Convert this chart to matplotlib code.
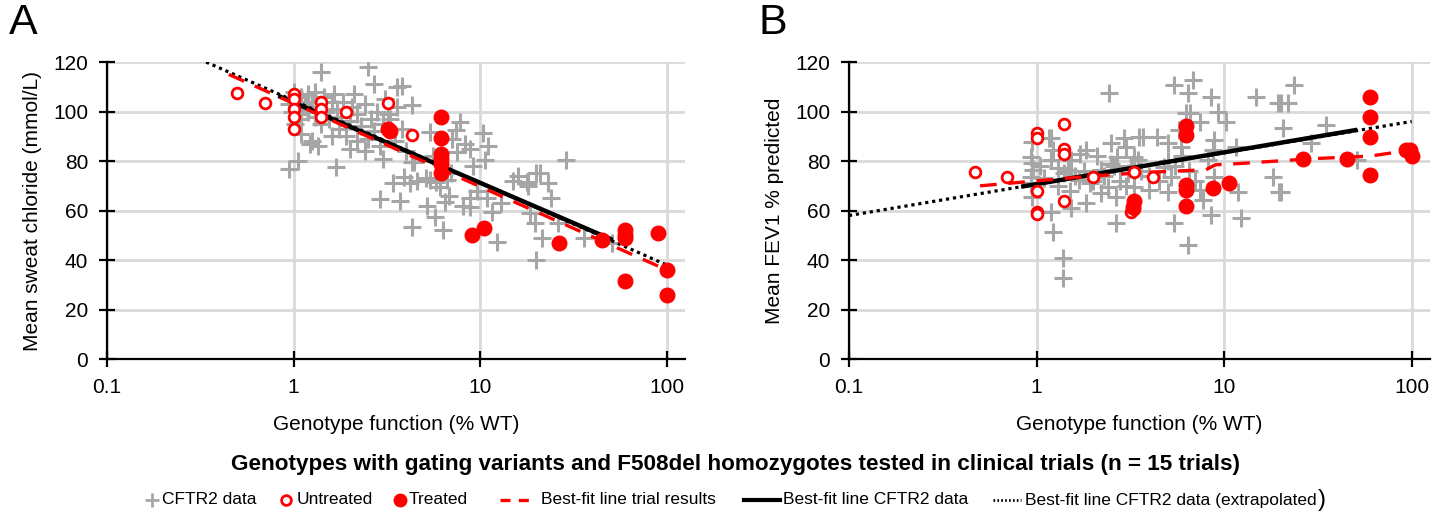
import matplotlib as mpl
import matplotlib.pyplot as plt
from matplotlib.lines import Line2D

mpl.rcParams.update({
    "font.family": ["Liberation Sans", "DejaVu Sans"],
    "font.size": 15,
    "axes.spines.right": False,
    "axes.spines.top": False,
})

GRAY = "#a6a6a6"
RED = "#ff0000"

# ---- Panel A: sweat chloride ----
a_cftr2_x = [0.95, 1.0, 1.0, 1.05, 1.05, 1.1, 1.1, 1.15, 1.2, 1.2, 1.25, 1.3, 1.3, 1.35, 1.4,
             1.45, 1.5, 1.55, 1.6, 1.65, 1.7, 1.75, 1.8, 1.85, 1.9, 2.0, 2.05, 2.1, 2.2, 2.3,
             2.4, 2.5, 2.6, 2.7, 2.8, 2.9, 3.0, 3.1, 3.3, 3.5, 3.6, 3.8, 4.0, 1.02, 1.1, 1.25,
             1.35, 1.6, 2.2, 1.08, 0.98, 1.4, 2.5, 2.7, 3.6, 3.8, 0.95, 1.05, 1.68, 1.23, 2.9,
             4.3, 3.4, 2.0, 4.3, 3.2, 5.4, 7.8, 7.4, 10.4, 8.8, 8.3, 7.1, 7.5, 10.6, 5.6, 4.4,
             4.6, 5.1, 5.8, 6.6, 17.8, 20.0, 3.9, 4.2, 5.4, 6.1, 3.7, 5.2, 6.5, 8.1, 8.8, 8.8,
             5.7, 4.3, 6.3, 11.6, 12.3, 18.0, 20.0, 18.5, 19.7, 20.9, 23.0, 24.0, 18.0, 21.4,
             26.0, 36.0, 50.9, 28.8, 16.0, 10.9, 9.6, 7.0, 6.8, 9.2, 11.0, 13.0, 15.0, 2.4, 3.0]
a_cftr2_y = [103, 108, 106, 104, 101, 99, 106, 103, 100, 107, 104, 98, 108, 102, 95,
             106, 100, 97, 104, 107, 101, 93, 98, 104, 90, 96, 102, 107, 99, 94,
             103, 89, 97, 92, 100, 86, 95, 105, 97, 88, 102, 93, 84, 95, 91, 88,
             86, 90, 88, 97, 100, 116, 118, 111, 110, 110.5, 77, 80, 77.5, 87, 64.5,
             102.5, 71, 85, 79.5, 99, 91.7, 95.8, 92.5, 91.3, 85, 87, 89, 83.6, 80.4, 82, 79.6,
             72, 73, 71.5, 72.5, 71.5, 75, 73.5, 71, 72.3, 69.5, 64, 62, 63.4, 62, 65, 61.4,
             57.4, 53.3, 52, 59.4, 47.3, 71, 40, 59, 55, 75, 71, 65, 70, 49,
             55, 49, 47, 80.4, 74, 65, 68, 75, 66, 78, 86, 63, 72, 84, 81]

a_untreated_x = [0.5, 0.7, 1.0, 1.0, 1.0, 1.0, 1.0, 1.4, 1.4, 1.4, 1.9, 3.2, 4.3]
a_untreated_y = [107.5, 103.5, 107, 105, 101, 98, 93, 104, 101, 98, 100, 103.5, 90.5]
a_treated_x = [3.2, 3.3, 6.2, 6.2, 6.2, 6.2, 6.2, 6.2, 9.0, 10.5, 26.5, 45, 60, 60, 60, 60, 90, 100, 100]
a_treated_y = [93, 92, 98, 89.5, 83, 81, 79, 75, 50, 53, 47, 48, 52, 50, 49, 31.5, 51, 36, 26]

a_trial_fit_x = [0.45, 100]
a_trial_fit_y = [115, 36]
a_cftr2_fit_x = [0.85, 50]
a_cftr2_fit_y = [106, 48.5]
a_extrap_x = [0.34, 100]
a_extrap_y = [120, 38]

# ---- Panel B: FEV1 ----
b_cftr2_x = [2.43, 1.16, 0.95, 0.93, 0.95, 0.96, 0.93, 0.93, 0.95, 1.22, 1.19, 1.3, 1.52, 1.48,
             1.83, 1.68, 1.52, 1.19, 1.23, 1.39, 1.39, 1.83, 2.49, 2.92, 2.99, 2.7, 2.2, 1.94,
             2.4, 2.2, 2.64, 2.64, 3.07, 3.3, 3.46, 3.5, 5.4, 6.8, 6.4, 8.5, 14.8, 19.4, 6.3,
             6.6, 9.3, 10.2, 7.4, 5.75, 3.7, 4.4, 5.0, 5.9, 8.8, 11.6, 8.7, 3.3, 8.2, 4.77, 5.2,
             3.97, 5.0, 7.4, 7.7, 8.8, 11.9, 18.3, 19.7, 5.4, 8.5, 12.3, 6.4, 23.6, 20.2, 22.0,
             20.6, 35.0, 29.0, 20.2, 50.9, 1.6, 1.8, 2.0, 2.3, 2.6, 2.8, 3.0, 3.2, 3.6, 4.0,
             4.5, 5.0, 5.5, 6.0, 6.5, 7.0, 1.3, 1.1, 1.5, 1.19, 1.7, 2.1, 2.5, 1.4, 1.05]
b_cftr2_y = [107.5, 89.3, 87.7, 81.6, 79.2, 76.4, 73.5, 71, 65.4, 84.4, 80.4, 77.2, 80.4, 76.4,
             84.4, 72.3, 61, 59.4, 51.3, 40.8, 32.7, 63, 87.3, 89.3, 85.6, 81.6, 76.4, 71,
             69.5, 67, 65.4, 55, 75, 69.5, 80.4, 89.7, 110.7, 112.7, 107.5, 105.8, 105.8, 103.4, 99.4,
             99.4, 99.8, 95.7, 95.7, 92.5, 89.7, 89.7, 87.3, 85.6, 88.5, 85.6, 84.4, 81.6, 80.4, 77.6, 73.5,
             68.3, 67.5, 68.3, 64.2, 73.5, 67.5, 73.5, 67.5, 55, 58.2, 57, 46, 110.7, 103.4, 103.4,
             93.3, 94.5, 87.3, 67.5, 80.4, 74, 76, 72, 74, 78, 72, 70, 78, 76, 74,
             72, 80, 78, 82, 76, 72, 70, 73, 68, 89.3, 83, 82, 79, 75, 78]

b_untreated_x = [0.47, 0.7, 1.0, 1.0, 1.0, 1.0, 1.0, 1.4, 1.4, 1.4, 1.4, 2.0, 3.18, 3.3, 3.3, 4.2]
b_untreated_y = [75.5, 73.5, 91.5, 89.5, 68, 59.5, 58.5, 95, 85, 83, 64, 73.5, 59.4, 60.5, 75.6, 73.5]
b_treated_x = [3.3, 3.25, 6.3, 6.3, 6.3, 6.3, 6.3, 8.7, 10.6, 26.5, 45, 60, 60, 60, 60, 93, 98, 101]
b_treated_y = [63.8, 61.5, 94, 90.5, 70.3, 68.3, 61.8, 69, 71, 81, 81, 105.8, 98, 89.7, 74.3, 84.4, 84.5, 82]

b_trial_fit_x = [0.5, 1, 2, 4, 8, 9, 12, 30, 60, 100]
b_trial_fit_y = [70, 72, 74, 75.5, 76.5, 78.5, 79, 81, 82, 84.5]
b_cftr2_fit_x = [0.85, 50]
b_cftr2_fit_y = [69.8, 92.5]
b_extrap_x = [0.1, 100]
b_extrap_y = [58, 96]

legend_labels = ["CFTR2 data", "Untreated", "Treated", "Best-fit line trial results",
                 "Best-fit line CFTR2 data", "Best-fit line CFTR2 data (extrapolated"]


def draw_panel(ax, cx, cy, ux, uy, tx, ty, fx, fy, sx, sy, ex, ey, ylabel):
    ax.scatter(cx, cy, marker="+", s=150, color=GRAY, linewidths=2.2, zorder=2)
    ax.plot(ex, ey, color="black", ls=(0, (1, 1.2)), lw=2.3, zorder=3)
    ax.plot(sx, sy, color="black", lw=3.2, zorder=4)
    ax.plot(fx, fy, color=RED, ls=(0, (5, 3.5)), lw=2.4, zorder=5)
    ax.scatter(ux, uy, s=60, facecolors="white", edgecolors=RED, linewidths=2.0, zorder=6)
    ax.scatter(tx, ty, s=110, color=RED, zorder=6)
    ax.set_xscale("log")
    ax.set_xlim(0.1, 125)
    ax.set_ylim(0, 120)
    ax.set_xticks([0.1, 1, 10, 100])
    ax.set_xticklabels(["0.1", "1", "10", "100"])
    ax.xaxis.set_minor_locator(mpl.ticker.NullLocator())
    ax.set_yticks(range(0, 121, 20))
    ax.grid(True, color="#d9d9d9", lw=2.0, zorder=0)
    ax.set_axisbelow(True)
    for sp in ("left", "bottom"):
        ax.spines[sp].set_linewidth(1.6)
        ax.spines[sp].set_zorder(7)
    ax.tick_params(direction="inout", length=11, width=1.6, labelsize=15, pad=8)
    ax.set_xlabel("Genotype function (% WT)", fontsize=15, labelpad=13)
    ax.set_ylabel(ylabel, fontsize=15, labelpad=8)


fig = plt.figure(figsize=(14.45, 5.13), dpi=100)
ax_a = fig.add_axes([0.074, 0.300, 0.400, 0.579])
ax_b = fig.add_axes([0.5875, 0.300, 0.402, 0.579])

draw_panel(ax_a, a_cftr2_x, a_cftr2_y, a_untreated_x, a_untreated_y, a_treated_x, a_treated_y,
           a_trial_fit_x, a_trial_fit_y, a_cftr2_fit_x, a_cftr2_fit_y, a_extrap_x, a_extrap_y,
           "Mean sweat chloride (mmol/L)")
draw_panel(ax_b, b_cftr2_x, b_cftr2_y, b_untreated_x, b_untreated_y, b_treated_x, b_treated_y,
           b_trial_fit_x, b_trial_fit_y, b_cftr2_fit_x, b_cftr2_fit_y, b_extrap_x, b_extrap_y,
           "Mean FEV1 % predicted")

fig.text(0.006, 0.955, "A", fontsize=31, va="center", ha="left")
fig.text(0.525, 0.955, "B", fontsize=31, va="center", ha="left")

fig.text(0.509, 0.095, "Genotypes with gating variants and F508del homozygotes tested in clinical trials (n = 15 trials)",
         fontsize=16.2, fontweight="bold", ha="center", va="center")

# hand-placed legend row (pixel positions from the reference, converted to figure fractions)
W, H = 1445.0, 513.0
ly = 1 - 500 / H
tr = fig.transFigure
fig.add_artist(Line2D([152 / W], [ly], marker="+", color=GRAY, markersize=10,
                      markeredgewidth=2, transform=tr))
fig.add_artist(Line2D([286 / W], [ly], marker="o", markerfacecolor="white", markeredgecolor=RED,
                      markersize=7, markeredgewidth=2, transform=tr))
fig.add_artist(Line2D([400 / W], [ly], marker="o", color=RED, markersize=9, transform=tr))
fig.add_artist(Line2D([500 / W, 530 / W], [ly, ly], color=RED, ls=(0, (3, 2.5)), lw=2.4, transform=tr))
fig.add_artist(Line2D([744 / W, 780 / W], [ly, ly], color="black", lw=3, transform=tr))
fig.add_artist(Line2D([993 / W, 1021 / W], [ly, ly], color="black", ls=(0, (0.6, 0.8)), lw=2,
                      transform=tr))
text_x = [162, 297, 409, 541, 783, 1025]
last = None
for tx_, lab in zip(text_x, legend_labels):
    last = fig.text(tx_ / W, ly, lab, fontsize=12.5, ha="left", va="center")
fig.canvas.draw()
bb = last.get_window_extent()
fig.text((bb.x1 + 1) / W, ly, ")", fontsize=17, ha="left", va="center")

fig.savefig("out.png", dpi=100)
